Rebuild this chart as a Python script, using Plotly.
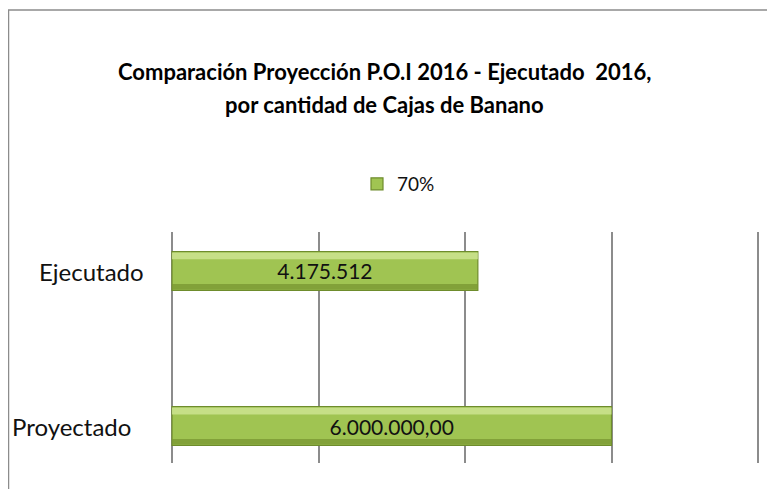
import plotly.graph_objects as go

categories = ["Proyectado", "Ejecutado"]
values = [6000000, 4175512]
bar_labels = ["6.000.000,00", "4.175.512"]
series_name = "70%"
title_lines = ["Comparación Proyección P.O.I 2016 - Ejecutado  2016,", "por cantidad de Cajas de Banano"]
x_ticks = [0, 2000000, 4000000, 6000000, 8000000]

FONT = "Lato, Calibri, sans-serif"
W, H = 775, 489
L, R, T, B = 161, 22, 224, 34
pw, ph = W - L - R, H - T - B
pad = 3 * 8000000 / 586
BW = 0.25


def px(xf):
    return (xf - L) / pw


def py(yf):
    return 1 + (T - yf) / ph


fig = go.Figure()
fig.add_trace(go.Bar(
    y=[0, 1], x=values, orientation="h", width=BW, offset=-BW / 2,
    name=series_name, text=bar_labels, textposition="inside",
    insidetextanchor="middle",
    textfont=dict(family=FONT, size=21, color="#111111"),
    marker=dict(color="#a0c452", line=dict(color="#6e8c2c", width=1.2)),
    showlegend=True, hoverinfo="x",
))
# bevel highlight (top) and shade (bottom)
fig.add_trace(go.Bar(
    y=[0, 1], x=values, orientation="h", width=0.045, offset=BW / 2 - 0.05,
    marker=dict(color="rgba(205,228,145,0.85)", line=dict(width=0)),
    showlegend=False, hoverinfo="skip",
))
fig.add_trace(go.Bar(
    y=[0, 1], x=values, orientation="h", width=0.035, offset=-BW / 2 + 0.006,
    marker=dict(color="rgba(120,150,50,0.75)", line=dict(width=0)),
    showlegend=False, hoverinfo="skip",
))

# category labels
label_right = {"Ejecutado": 138, "Proyectado": 125}
for i, c in enumerate(categories):
    fig.add_annotation(x=px(label_right[c]), xref="paper", y=i, yref="y",
                       text=c, showarrow=False, xanchor="right",
                       font=dict(family=FONT, size=24, color="#111111"))

# title lines
for yy, line in zip([64, 97], title_lines):
    fig.add_annotation(x=px(376), xref="paper", y=py(yy), yref="paper",
                       text="<b>" + line + "</b>", showarrow=False,
                       xanchor="center", yanchor="middle",
                       font=dict(family=FONT, size=22, color="#000000"))

# frame
fig.add_shape(type="rect", xref="paper", yref="paper",
              x0=px(0.5), x1=px(W + 30), y0=py(H + 30), y1=py(2),
              line=dict(color="#8c8c8c", width=1.5), layer="below")

fig.update_layout(
    width=W, height=H,
    margin=dict(l=L, r=R, t=T, b=B),
    paper_bgcolor="white", plot_bgcolor="white",
    barmode="overlay",
    legend=dict(x=px(349), xanchor="left", y=py(176), yanchor="middle",
                orientation="h", font=dict(family=FONT, size=19, color="#111111"),
                bgcolor="rgba(0,0,0,0)"),
    xaxis=dict(range=[-pad, 8000000 + pad], tickvals=x_ticks, showticklabels=False,
               showgrid=True, gridcolor="#8c8c8c", gridwidth=1.5, zeroline=False, showline=False),
    yaxis=dict(range=[-0.2387, 1.2516], showticklabels=False, showgrid=False, zeroline=False, showline=False),
)

fig.write_html("out.html")
